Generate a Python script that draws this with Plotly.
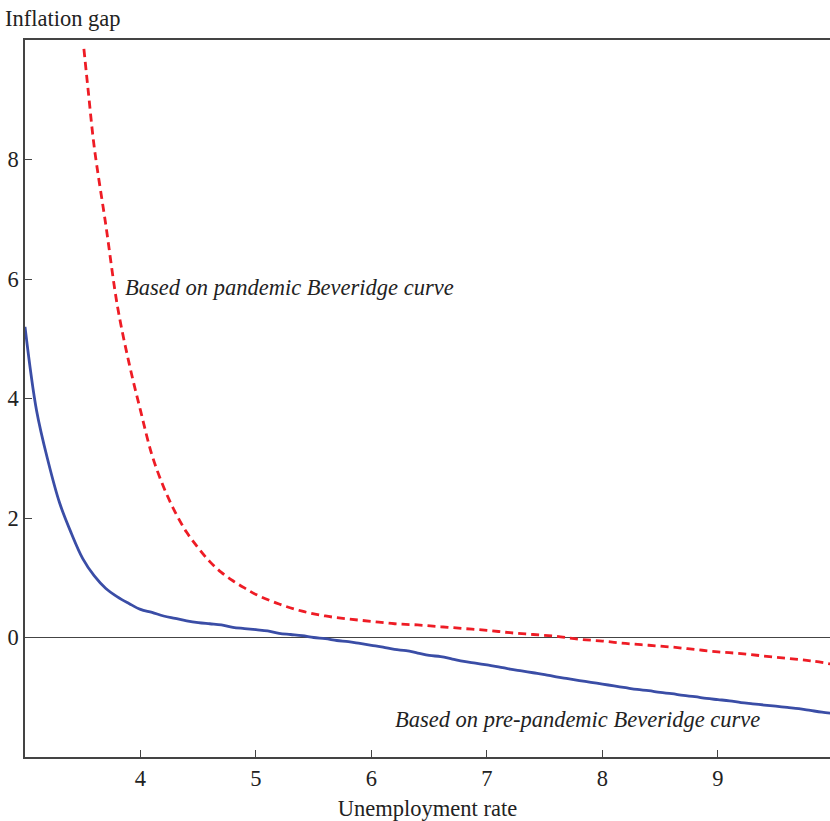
import plotly.graph_objects as go

# Pre-pandemic Beveridge curve
pre_x = [3.0, 3.1, 3.2, 3.3, 3.4, 3.5, 3.6, 3.7, 3.8, 3.9, 4.0, 4.1, 4.2, 4.3, 4.4, 4.5, 4.6, 4.7, 4.8, 4.9,
         5.0, 5.1, 5.2, 5.3, 5.4, 5.5, 5.6, 5.7, 5.8, 5.9, 6.0, 6.1, 6.2, 6.3, 6.4, 6.5, 6.6, 6.7, 6.8, 6.9,
         7.0, 7.1, 7.2, 7.3, 7.4, 7.5, 7.6, 7.7, 7.8, 7.9, 8.0, 8.1, 8.2, 8.3, 8.4, 8.5, 8.6, 8.7, 8.8, 8.9,
         9.0, 9.1, 9.2, 9.3, 9.4, 9.5, 9.6, 9.7, 9.8, 9.9, 10.0]
pre_y = [5.2, 3.8, 2.95, 2.25, 1.75, 1.32, 1.03, 0.82, 0.68, 0.57, 0.47, 0.42, 0.36, 0.32, 0.28, 0.25, 0.23, 0.21, 0.17, 0.15,
         0.13, 0.11, 0.07, 0.05, 0.03, 0.0, -0.02, -0.05, -0.07, -0.10, -0.13, -0.16, -0.20, -0.22, -0.26, -0.30, -0.32, -0.36, -0.40, -0.43,
         -0.46, -0.49, -0.53, -0.56, -0.59, -0.62, -0.66, -0.69, -0.72, -0.75, -0.78, -0.81, -0.84, -0.87, -0.89, -0.92, -0.94, -0.97, -0.99, -1.02,
         -1.04, -1.06, -1.09, -1.11, -1.13, -1.15, -1.17, -1.19, -1.22, -1.25, -1.27]

# Pandemic Beveridge curve
pan_x = [3.51, 3.55, 3.6, 3.7, 3.8, 3.9, 4.0, 4.1, 4.2, 4.3, 4.4, 4.5, 4.6, 4.7, 4.8, 4.9, 5.0,
         5.2, 5.4, 5.6, 5.8, 6.0, 6.2, 6.4, 6.6, 6.8, 7.0, 7.2, 7.4, 7.6, 7.8, 8.0, 8.2, 8.4, 8.6, 8.8,
         9.0, 9.2, 9.4, 9.6, 9.8, 10.0]
pan_y = [9.85, 9.1, 8.2, 6.9, 5.55, 4.6, 3.8, 3.05, 2.52, 2.1, 1.76, 1.5, 1.27, 1.09, 0.95, 0.83, 0.72,
         0.56, 0.44, 0.36, 0.31, 0.27, 0.23, 0.21, 0.18, 0.15, 0.12, 0.08, 0.05, 0.02, -0.03, -0.06, -0.10, -0.13, -0.16, -0.20,
         -0.24, -0.27, -0.31, -0.35, -0.39, -0.45]

x_ticks = [4, 5, 6, 7, 8, 9]
y_ticks = [0, 2, 4, 6, 8]

FONT = "Liberation Serif"
AX = "#444444"
FS = 22.5

fig = go.Figure()
fig.add_trace(go.Scatter(x=pre_x, y=pre_y, mode="lines", line=dict(color="#3A4DA6", width=2.8),
                         line_shape="spline", showlegend=False))
fig.add_trace(go.Scatter(x=pan_x, y=pan_y, mode="lines", line=dict(color="#EE1C25", width=2.8, dash="8px,5px"),
                         line_shape="spline", showlegend=False))

fig.add_annotation(x=3.85, y=5.85, xref="x", yref="y", text="<i>Based on pandemic Beveridge curve</i>",
                   showarrow=False, xanchor="left", yanchor="middle", font=dict(family=FONT, size=FS, color="#222"))
fig.add_annotation(x=6.19, y=-1.38, xref="x", yref="y", text="<i>Based on pre-pandemic Beveridge curve</i>",
                   showarrow=False, xanchor="left", yanchor="middle", font=dict(family=FONT, size=FS, color="#222"))
fig.add_annotation(x=0, y=1, xref="paper", yref="paper", xshift=-22, yshift=22, text="Inflation gap",
                   showarrow=False, xanchor="left", yanchor="middle", font=dict(family=FONT, size=FS, color="#222"))

fig.update_layout(
    width=830, height=821,
    margin=dict(l=25, r=0, t=40, b=64),
    paper_bgcolor="white", plot_bgcolor="white",
    font=dict(family=FONT, size=FS, color="#222"),
    xaxis=dict(range=[3, 9.97], tickvals=x_ticks, ticks="inside", ticklen=7, tickcolor=AX, tickwidth=1.2,
               showline=True, linecolor=AX, linewidth=1.5, mirror=True, showgrid=False, zeroline=False,
               tickfont=dict(family=FONT, size=FS),
               title=dict(text="Unemployment rate", font=dict(family=FONT, size=FS), standoff=10)),
    yaxis=dict(range=[-2, 10], tickvals=y_ticks, ticks="inside", ticklen=7, tickcolor=AX, tickwidth=1.2,
               showline=True, linecolor=AX, linewidth=1.5, showgrid=False,
               tickfont=dict(family=FONT, size=FS),
               zeroline=True, zerolinecolor=AX, zerolinewidth=1.2),
)

fig.write_html("out.html")
